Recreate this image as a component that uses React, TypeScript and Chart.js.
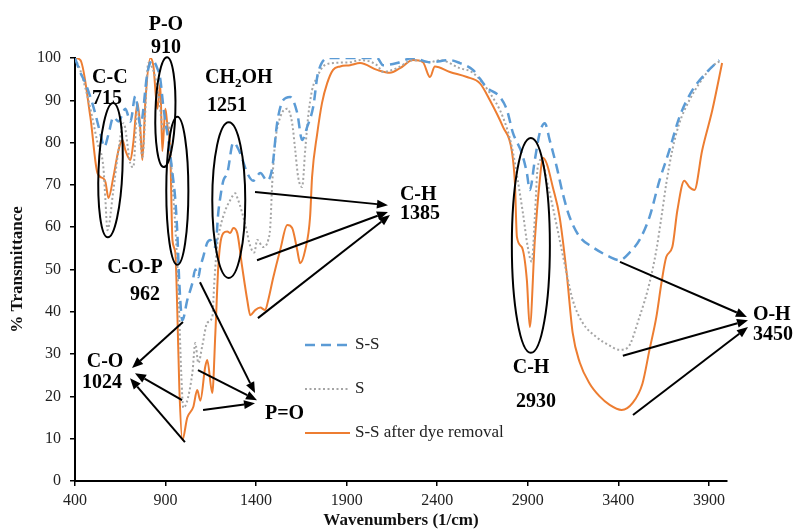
import { useEffect, useRef } from "react";
import { Chart, registerables } from "chart.js";
Chart.register(...registerables);

// ---- data (wavenumber in 1/cm, % transmittance) ----
const seriesLabels = ["S-S", "S", "S-S after dye removal"];
const xTicks = [400, 900, 1400, 1900, 2400, 2900, 3400, 3900];

const ssWavenumbers = [400, 430, 458, 502, 541, 562, 585, 612, 640, 678, 706, 733, 761, 800, 827, 855, 871, 888, 915, 938, 954, 965, 976, 993, 1020, 1048, 1064, 1081, 1092, 1108, 1130, 1147, 1175, 1191, 1202, 1219, 1241, 1274, 1312, 1351, 1384, 1423, 1461, 1489, 1516, 1549, 1588, 1627, 1654, 1682, 1715, 1742, 1809, 1919, 2068, 2101, 2178, 2266, 2360, 2470, 2525, 2597, 2674, 2746, 2785, 2818, 2867, 2895, 2911, 2939, 2966, 2994, 3021, 3060, 3093, 3131, 3187, 3258, 3352, 3407, 3462, 3517, 3572, 3627, 3682, 3737, 3809, 3885, 3957];
const ssValues = [100, 96.5, 94, 88.4, 82, 79, 82, 86, 85, 88, 85, 91, 84, 96.5, 99.5, 97.5, 95, 88.4, 80.6, 72.8, 66.4, 58.6, 46.8, 38, 42.8, 46.8, 50, 48.2, 50.6, 53, 56.3, 57, 55.3, 63.4, 67, 71, 72.8, 80, 77.5, 72.8, 71, 72.8, 71, 74, 84.6, 90, 90.8, 87, 80.6, 83.7, 88.4, 96.5, 100, 100, 100, 98.3, 98.8, 100, 99, 99.5, 98.8, 97.2, 93, 90.8, 87.7, 82.3, 77.5, 72.8, 68.8, 75.9, 82.3, 84.6, 80.6, 74.2, 68, 62.4, 57.7, 55.3, 53, 52.2, 54, 57, 62.4, 71, 78.2, 86, 92.4, 96.5, 99.5];

const sWavenumbers = [400, 430, 485, 524, 557, 568, 579, 612, 640, 668, 706, 722, 745, 772, 805, 833, 860, 888, 915, 938, 954, 971, 987, 998, 1048, 1064, 1081, 1103, 1130, 1158, 1169, 1186, 1202, 1230, 1257, 1285, 1296, 1323, 1351, 1362, 1390, 1406, 1439, 1467, 1478, 1489, 1505, 1533, 1572, 1599, 1616, 1632, 1654, 1671, 1687, 1709, 1737, 1770, 1825, 1919, 1974, 2068, 2101, 2178, 2266, 2360, 2415, 2525, 2597, 2691, 2763, 2812, 2845, 2873, 2900, 2922, 2939, 2955, 2977, 3005, 3038, 3076, 3115, 3148, 3203, 3280, 3352, 3407, 3451, 3517, 3572, 3610, 3638, 3665, 3698, 3737, 3792, 3847, 3919, 3968];
const sValues = [100, 97, 88, 80, 74, 66.4, 59.3, 68.8, 78.2, 84.6, 75, 74.2, 88.4, 76.6, 98.8, 97, 91.7, 83, 85, 70, 60, 45, 25, 17.3, 25.5, 32.6, 27.9, 32, 37.4, 38.8, 46.8, 56.3, 60, 64, 66.4, 68, 67, 63.4, 58.6, 56.3, 54, 57, 55.3, 57, 60, 70.4, 80, 86, 88, 84.6, 78.2, 71.9, 69.5, 78.2, 86, 92.4, 95.5, 98, 98.8, 99, 99.5, 98.3, 96.7, 97.6, 99.5, 99, 99.5, 97.6, 96.5, 91.7, 86, 79, 71, 63.4, 55.3, 51.8, 62.4, 74.2, 76, 71, 64.8, 57, 49, 42.8, 37.4, 34, 32, 31, 31.5, 38.8, 46.8, 54.6, 62.4, 70.4, 78.2, 84.6, 90, 94, 98, 99.5];

const dyeWavenumbers = [400, 430, 485, 524, 557, 568, 585, 612, 640, 662, 678, 706, 722, 745, 761, 772, 789, 816, 833, 855, 871, 882, 899, 910, 926, 938, 954, 965, 976, 993, 1020, 1053, 1075, 1092, 1119, 1130, 1158, 1175, 1191, 1202, 1219, 1241, 1257, 1274, 1296, 1323, 1351, 1368, 1395, 1423, 1450, 1467, 1494, 1533, 1572, 1599, 1627, 1643, 1671, 1698, 1709, 1737, 1764, 1792, 1825, 1864, 1919, 1974, 2068, 2139, 2195, 2266, 2321, 2360, 2387, 2470, 2564, 2636, 2691, 2763, 2812, 2829, 2840, 2867, 2895, 2911, 2939, 2966, 2983, 3005, 3038, 3076, 3115, 3148, 3187, 3242, 3297, 3352, 3418, 3478, 3533, 3572, 3610, 3638, 3665, 3698, 3726, 3764, 3792, 3820, 3863, 3919, 3973];
const dyeValues = [100, 99.5, 86, 72.8, 71.5, 70.7, 66.9, 71.9, 78.2, 80.6, 78.2, 75.9, 80, 89.4, 83, 75.9, 90, 100, 98, 88, 94, 78, 88, 84, 78, 57, 54, 40, 22, 9.7, 15, 17.5, 21.5, 19, 27, 28.6, 20.8, 35, 50.6, 56, 58.6, 59, 58.6, 59.8, 58.6, 50.6, 42.8, 39.2, 40.4, 41, 40.4, 42.8, 48, 54.6, 60.5, 59.8, 54.6, 51.5, 54.6, 62.4, 71.9, 82, 89.4, 94, 97.2, 98, 98.3, 98.8, 97.2, 96.5, 97.6, 99.5, 99, 95.5, 98, 96.7, 95.5, 94, 90, 83.7, 78, 70.4, 57.7, 55.3, 47.5, 36.4, 57, 71, 76.4, 75, 69.5, 62.4, 49, 35, 28, 23, 20, 18, 16.8, 18.4, 23, 31, 38.8, 46.8, 53, 55.3, 64, 71, 69.5, 68.8, 78.2, 87.7, 98.8];

// ---- annotations in data units (wavenumber, %T) ----
const ellipses = [
  { wn: 596, t: 73.5, rwn: 66, rt: 15.9, rot: 0.04 },
  { wn: 899, t: 87.2, rwn: 55, rt: 13, rot: 0.03 },
  { wn: 965, t: 68.6, rwn: 61, rt: 17.5, rot: 0.0 },
  { wn: 1249, t: 66.4, rwn: 91, rt: 18.4, rot: 0.0 },
  { wn: 2917, t: 55.7, rwn: 105, rt: 25.4, rot: 0.0 },
];
const arrows = [
  { from: [1394, 68.3], to: [2128, 65.2] },
  { from: [1405, 52.2], to: [2128, 63.6] },
  { from: [1410, 38.5], to: [2139, 62.9] },
  { from: [3409, 51.8], to: [4110, 38.8] },
  { from: [3425, 29.6], to: [4116, 38.0] },
  { from: [3481, 15.6], to: [4116, 36.4] },
  { from: [996, 37.6], to: [715, 26.7] },
  { from: [991, 19.1], to: [731, 25.5] },
  { from: [1007, 9.2], to: [704, 24.3] },
  { from: [1090, 47], to: [1394, 20.8] },
  { from: [1079, 26.2], to: [1405, 19.1] },
  { from: [1107, 16.8], to: [1394, 18.4] },
];
const noteLabels = [
  { text: "C-C", wn: 494, t: 95.4, align: "left" },
  { text: "715", wn: 494, t: 90.3, align: "left" },
  { text: "P-O", wn: 902, t: 107.8, align: "center" },
  { text: "910", wn: 902, t: 102.4, align: "center" },
  { text: "CH|2|OH", wn: 1118, t: 95.3, align: "left" },
  { text: "1251", wn: 1129, t: 88.7, align: "left" },
  { text: "C-O-P", wn: 731, t: 50.4, align: "center" },
  { text: "962", wn: 786, t: 44, align: "center" },
  { text: "C-O", wn: 566, t: 28.1, align: "center" },
  { text: "1024", wn: 549, t: 23.2, align: "center" },
  { text: "P=O", wn: 1449, t: 15.8, align: "left" },
  { text: "C-H", wn: 2194, t: 67.6, align: "left" },
  { text: "1385", wn: 2194, t: 63.1, align: "left" },
  { text: "C-H", wn: 2918, t: 26.7, align: "center" },
  { text: "2930", wn: 2945, t: 18.7, align: "center" },
  { text: "O-H", wn: 4143, t: 39.2, align: "left" },
  { text: "3450", wn: 4143, t: 34.5, align: "left" },
];

const SERIF = '"Liberation Serif", "Times New Roman", serif';

function drawArrow(ctx: CanvasRenderingContext2D, x1: number, y1: number, x2: number, y2: number) {
  const ang = Math.atan2(y2 - y1, x2 - x1);
  const len = 11, half = 4.5;
  const bx = x2 - len * Math.cos(ang), by = y2 - len * Math.sin(ang);
  ctx.beginPath();
  ctx.moveTo(x1, y1);
  ctx.lineTo(bx, by);
  ctx.stroke();
  ctx.beginPath();
  ctx.moveTo(x2, y2);
  ctx.lineTo(bx + half * Math.sin(ang), by - half * Math.cos(ang));
  ctx.lineTo(bx - half * Math.sin(ang), by + half * Math.cos(ang));
  ctx.closePath();
  ctx.fill();
}

const notesPlugin = {
  id: "ftirNotes",
  afterDatasetsDraw(chart: any) {
    const { ctx, chartArea } = chart;
    const xs = chart.scales.x, ys = chart.scales.y;
    const px = (v: number) => xs.getPixelForValue(v);
    const py = (v: number) => ys.getPixelForValue(v);
    ctx.save();
    ctx.strokeStyle = "#000";
    ctx.fillStyle = "#000";
    ctx.lineWidth = 2;
    ctx.setLineDash([]);
    ellipses.forEach((e) => {
      ctx.beginPath();
      ctx.ellipse(px(e.wn), py(e.t), Math.abs(px(e.wn + e.rwn) - px(e.wn)), Math.abs(py(e.t + e.rt) - py(e.t)), e.rot, 0, Math.PI * 2);
      ctx.stroke();
    });
    arrows.forEach((a) => drawArrow(ctx, px(a.from[0]), py(a.from[1]), px(a.to[0]), py(a.to[1])));

    ctx.textBaseline = "middle";
    noteLabels.forEach((l) => {
      const x = px(l.wn), y = py(l.t);
      if (l.text.includes("|")) {
        const [a, sub, b] = l.text.split("|");
        ctx.textAlign = "left";
        ctx.font = `bold 20px ${SERIF}`;
        ctx.fillText(a, x, y);
        let cx = x + ctx.measureText(a).width;
        ctx.font = `bold 13px ${SERIF}`;
        ctx.fillText(sub, cx, y + 6);
        cx += ctx.measureText(sub).width;
        ctx.font = `bold 20px ${SERIF}`;
        ctx.fillText(b, cx, y);
      } else {
        ctx.textAlign = l.align as CanvasTextAlign;
        ctx.font = `bold 20px ${SERIF}`;
        ctx.fillText(l.text, x, y);
      }
    });

    // legend inside plot
    const lx0 = chartArea.left + 230, lx1 = lx0 + 45;
    const rows = [287, 331, 375];
    chart.data.datasets.forEach((ds: any, i: number) => {
      const y = chartArea.top + rows[i];
      ctx.strokeStyle = ds.borderColor;
      ctx.lineWidth = ds.borderWidth;
      ctx.setLineDash(ds.borderDash || []);
      ctx.beginPath();
      ctx.moveTo(lx0, y);
      ctx.lineTo(lx1, y);
      ctx.stroke();
      ctx.setLineDash([]);
      ctx.fillStyle = "#222";
      ctx.font = `17px ${SERIF}`;
      ctx.textAlign = "left";
      ctx.fillText(ds.label, lx1 + 5, y);
    });
    ctx.restore();
  },
};

export default function App() {
  const ref = useRef<HTMLCanvasElement | null>(null);
  useEffect(() => {
    document.body.style.margin = "0";
    if (!ref.current) return;
    const toPts = (xs: number[], ys: number[]) => xs.map((x, i) => ({ x, y: ys[i] }));
    const chart = new Chart(ref.current, {
      type: "line",
      data: {
        datasets: [
          { label: seriesLabels[0], data: toPts(ssWavenumbers, ssValues), borderColor: "#5B9BD5", borderWidth: 2.5, borderDash: [10, 6], pointRadius: 0, cubicInterpolationMode: "monotone", fill: false },
          { label: seriesLabels[1], data: toPts(sWavenumbers, sValues), borderColor: "#A5A5A5", borderWidth: 2, borderDash: [2, 2.5], pointRadius: 0, cubicInterpolationMode: "monotone", fill: false },
          { label: seriesLabels[2], data: toPts(dyeWavenumbers, dyeValues), borderColor: "#ED7D31", borderWidth: 2, pointRadius: 0, cubicInterpolationMode: "monotone", fill: false },
        ],
      } as any,
      options: {
        animation: false,
        responsive: false,
        devicePixelRatio: 1,
        events: [],
        layout: { padding: { top: 58, right: 68, left: 0, bottom: 0 } },
        plugins: { legend: { display: false }, tooltip: { enabled: false } },
        scales: {
          x: {
            type: "linear",
            min: 400,
            max: 4000,
            afterBuildTicks: (s: any) => { s.ticks = xTicks.map((v) => ({ value: v })); },
            afterFit: (s: any) => { s.height = 51; },
            grid: { drawOnChartArea: false, drawTicks: true, tickLength: 5, color: "#000", lineWidth: 1.5 },
            border: { display: true, color: "#000", width: 2 },
            ticks: { font: { family: SERIF, size: 16 }, color: "#222", padding: 5, maxRotation: 0, callback: (v: any) => String(v) },
            title: { display: true, text: "Wavenumbers (1/cm)", font: { family: SERIF, size: 17, weight: "bold" }, color: "#111", padding: { top: 0, bottom: 1 } },
          },
          y: {
            min: 0,
            max: 100,
            ticks: { stepSize: 10, font: { family: SERIF, size: 16 }, color: "#222", padding: 9, callback: (v: any) => String(v) },
            afterFit: (s: any) => { s.width = 75; },
            grid: { drawOnChartArea: false, drawTicks: true, tickLength: 5, color: "#000", lineWidth: 1.5 },
            border: { display: true, color: "#000", width: 2 },
            title: { display: true, text: "% Transmittance", font: { family: SERIF, size: 17, weight: "bold" }, color: "#111", padding: { top: 7, bottom: 0 } },
          },
        },
      } as any,
      plugins: [notesPlugin],
    });
    return () => chart.destroy();
  }, []);
  return (
    <div style={{ width: 795, height: 532 }}>
      <canvas ref={ref} width={795} height={532} />
    </div>
  );
}
